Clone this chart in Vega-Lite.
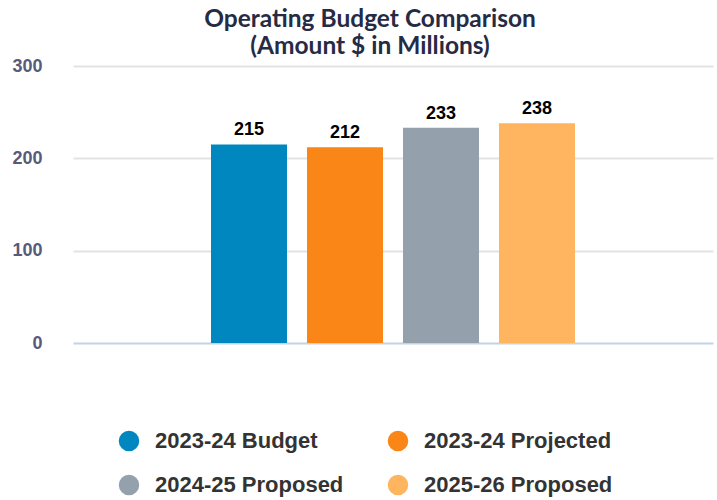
{
  "$schema": "https://vega.github.io/schema/vega-lite/v6.json",
  "width": 640,
  "height": 277,
  "autosize": {"type": "none"},
  "padding": {"left": 73, "top": 66, "right": 4, "bottom": 157},
  "background": "white",
  "view": {"stroke": null},
  "title": {
    "text": ["Operating Budget Comparison", "(Amount $ in Millions)"],
    "font": "Lato",
    "fontSize": 24.5,
    "fontWeight": "bold",
    "color": "#262b45",
    "lineHeight": 27,
    "anchor": "middle",
    "frame": "group",
    "dx": -23,
    "offset": -2
  },
  "data": {
    "values": [
      {"group": "all", "series": "2023-24 Budget", "amount": 215},
      {"group": "all", "series": "2023-24 Projected", "amount": 212},
      {"group": "all", "series": "2024-25 Proposed", "amount": 233},
      {"group": "all", "series": "2025-26 Proposed", "amount": 238}
    ]
  },
  "encoding": {
    "x": {
      "field": "group",
      "type": "nominal",
      "scale": {"paddingInner": 0, "paddingOuter": 0.33333},
      "axis": null
    },
    "xOffset": {
      "field": "series",
      "type": "nominal",
      "sort": null,
      "scale": {"paddingInner": 0.2083, "paddingOuter": 0.10415}
    },
    "y": {
      "field": "amount",
      "type": "quantitative",
      "scale": {"domain": [0, 300], "nice": false},
      "axis": {
        "values": [0, 100, 200, 300],
        "title": null,
        "domain": false,
        "ticks": false,
        "labelPadding": 31,
        "labelFont": "Liberation Sans",
        "labelFontSize": 18,
        "labelFontWeight": "bold",
        "labelColor": "#575a7b",
        "gridColor": {"condition": {"test": "datum.value === 0", "value": "#c6d1e6"}, "value": "#e3e3e3"},
        "gridWidth": 2
      }
    }
  },
  "layer": [
    {
      "mark": {"type": "bar"},
      "encoding": {
        "color": {
          "field": "series",
          "type": "nominal",
          "sort": null,
          "scale": {
            "domain": ["2023-24 Budget", "2023-24 Projected", "2024-25 Proposed", "2025-26 Proposed"],
            "range": ["#0087c0", "#f98616", "#94a1ac", "#ffb55f"]
          },
          "legend": {
            "title": null,
            "orient": "none",
            "legendX": 45,
            "legendY": 364,
            "direction": "horizontal",
            "columns": 2,
            "symbolType": "circle",
            "symbolSize": 420,
            "symbolStrokeWidth": 0,
            "labelFont": "Liberation Sans",
            "labelFontSize": 22,
            "labelFontWeight": "bold",
            "labelColor": "#333333",
            "labelOffset": 15,
            "columnPadding": 43,
            "rowPadding": 22,
            "labelLimit": 400
          }
        }
      }
    },
    {
      "mark": {
        "type": "text",
        "baseline": "alphabetic",
        "dy": -9,
        "font": "Liberation Sans",
        "fontSize": 18,
        "fontWeight": "bold",
        "color": "#000000"
      },
      "encoding": {
        "text": {"field": "amount", "type": "quantitative"}
      }
    }
  ]
}
